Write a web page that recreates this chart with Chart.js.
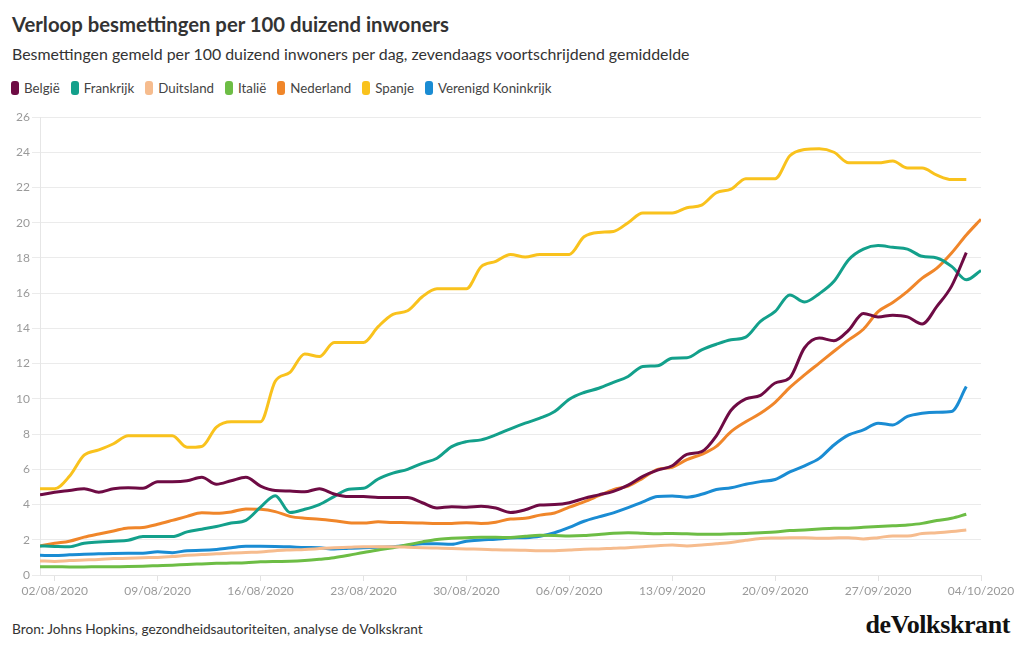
<!DOCTYPE html>
<html><head><meta charset="utf-8">
<script src="https://cdn.jsdelivr.net/npm/chart.js@4.4.0/dist/chart.umd.min.js"></script>
<style>
html,body{margin:0;padding:0;background:#fff;width:1020px;height:650px;overflow:hidden;font-family:Lato,'Noto Sans',sans-serif;}
#title{position:absolute;left:12px;top:12px;font-size:20.3px;font-weight:700;color:#333;white-space:nowrap}
#sub{position:absolute;left:12px;top:44px;font-size:15.9px;color:#333;white-space:nowrap}
#legend{position:absolute;left:11px;top:80px;font-size:13.3px;color:#444;display:flex;white-space:nowrap}
.item{display:flex;align-items:center;margin-right:11px}
.sw{width:8px;height:14px;border-radius:3px;margin-right:5px}
#wrap{position:absolute;left:0;top:100px;width:1020px;height:510px}
#src{position:absolute;left:12px;top:620px;font-size:13.7px;color:#333;white-space:nowrap}
#logo{position:absolute;right:10px;top:610px;font-family:'Liberation Serif',serif;font-weight:700;font-size:26px;color:#111;letter-spacing:-0.4px}
</style></head>
<body>
<div id="title">Verloop besmettingen per 100 duizend inwoners</div>
<div id="sub">Besmettingen gemeld per 100 duizend inwoners per dag, zevendaags voortschrijdend gemiddelde</div>
<div id="legend"></div>
<div id="wrap"><canvas id="c" width="1020" height="510"></canvas></div>
<div id="src">Bron: Johns Hopkins, gezondheidsautoriteiten, analyse de Volkskrant</div>
<div id="logo">deVolkskrant</div>
<script>
const dates = ["01/08/2020","02/08/2020","03/08/2020","04/08/2020","05/08/2020","06/08/2020","07/08/2020","08/08/2020","09/08/2020","10/08/2020",
"11/08/2020","12/08/2020","13/08/2020","14/08/2020","15/08/2020","16/08/2020","17/08/2020","18/08/2020","19/08/2020","20/08/2020",
"21/08/2020","22/08/2020","23/08/2020","24/08/2020","25/08/2020","26/08/2020","27/08/2020","28/08/2020","29/08/2020","30/08/2020","31/08/2020",
"01/09/2020","02/09/2020","03/09/2020","04/09/2020","05/09/2020","06/09/2020","07/09/2020","08/09/2020","09/09/2020","10/09/2020",
"11/09/2020","12/09/2020","13/09/2020","14/09/2020","15/09/2020","16/09/2020","17/09/2020","18/09/2020","19/09/2020","20/09/2020",
"21/09/2020","22/09/2020","23/09/2020","24/09/2020","25/09/2020","26/09/2020","27/09/2020","28/09/2020","29/09/2020","30/09/2020",
"01/10/2020","02/10/2020","03/10/2020","04/10/2020"];
const tickDates = ["02/08/2020","09/08/2020","16/08/2020","23/08/2020","30/08/2020","06/09/2020","13/09/2020","20/09/2020","27/09/2020","04/10/2020"];
const yTicks = [0,2,4,6,8,10,12,14,16,18,20,22,24,26];

const countries = ["België","Frankrijk","Duitsland","Italië","Nederland","Spanje","Verenigd Koninkrijk"];
const colors = ["#6e0b44","#13a08b","#f6bc8e","#6dbd45","#f0862a","#f9c21d","#1a8cd3"];

const belgie = [4.55,4.7,4.8,4.9,4.7,4.9,4.95,4.93,5.3,5.3,5.35,5.55,5.15,5.35,5.55,5.05,4.8,4.77,4.72,4.9,4.6,4.45,4.45,4.4,4.4,4.4,4.1,3.8,3.88,3.85,3.9,3.8,3.55,3.7,3.97,4.0,4.1,4.35,4.55,4.75,5.1,5.6,5.95,6.2,6.85,7.0,7.9,9.35,10.0,10.2,10.9,11.2,12.9,13.45,13.3,13.9,14.85,14.65,14.75,14.65,14.25,15.25,16.4,18.3,null];
const frankrijk = [1.65,1.62,1.6,1.8,1.87,1.92,1.97,2.18,2.18,2.18,2.45,2.6,2.75,2.95,3.1,3.85,4.5,3.55,3.73,4.0,4.45,4.87,4.92,5.45,5.78,6.0,6.34,6.63,7.29,7.57,7.67,7.95,8.3,8.62,8.9,9.28,9.98,10.36,10.6,10.93,11.27,11.84,11.88,12.31,12.33,12.78,13.1,13.35,13.5,14.4,14.96,15.9,15.5,15.97,16.67,17.9,18.5,18.7,18.6,18.5,18.09,18.0,17.52,16.76,17.29];
const duitsland = [0.8,0.77,0.82,0.85,0.88,0.93,0.95,0.98,1.0,1.05,1.12,1.17,1.2,1.25,1.28,1.3,1.38,1.42,1.45,1.5,1.55,1.57,1.6,1.6,1.6,1.58,1.55,1.53,1.51,1.48,1.46,1.43,1.42,1.4,1.38,1.38,1.42,1.46,1.48,1.52,1.55,1.6,1.66,1.7,1.65,1.7,1.77,1.85,1.97,2.07,2.1,2.12,2.12,2.08,2.1,2.12,2.05,2.12,2.22,2.22,2.35,2.4,2.47,2.56,null];
const italie = [0.47,0.47,0.46,0.46,0.47,0.47,0.48,0.5,0.53,0.56,0.6,0.63,0.66,0.68,0.7,0.75,0.77,0.78,0.82,0.89,0.98,1.12,1.28,1.42,1.55,1.72,1.88,2.02,2.08,2.12,2.14,2.14,2.13,2.2,2.25,2.24,2.22,2.24,2.3,2.37,2.4,2.37,2.34,2.36,2.34,2.32,2.32,2.34,2.36,2.4,2.44,2.52,2.56,2.61,2.65,2.66,2.71,2.75,2.79,2.84,2.93,3.09,3.22,3.45,null];
const nederland = [1.65,1.8,1.92,2.15,2.33,2.5,2.67,2.7,2.88,3.1,3.33,3.53,3.5,3.58,3.75,3.73,3.6,3.33,3.22,3.17,3.08,2.97,2.95,3.02,2.98,2.97,2.95,2.93,2.93,2.97,2.93,3.0,3.18,3.22,3.4,3.52,3.85,4.15,4.5,4.85,5.05,5.5,6.0,6.12,6.55,6.85,7.3,8.14,8.7,9.18,9.8,10.65,11.36,12.03,12.7,13.35,13.95,14.95,15.47,16.1,16.85,17.42,18.28,19.3,20.2];
const spanje = [4.9,4.9,5.6,6.8,7.1,7.45,7.9,7.9,7.9,7.9,7.25,7.3,8.4,8.7,8.7,8.7,11.0,11.5,12.55,12.4,13.2,13.2,13.2,14.1,14.8,15.0,15.8,16.25,16.25,16.25,17.5,17.8,18.2,18.05,18.2,18.2,18.2,19.2,19.45,19.5,20.0,20.55,20.55,20.55,20.85,21.0,21.7,21.9,22.5,22.5,22.5,23.8,24.15,24.2,24.0,23.4,23.4,23.4,23.5,23.1,23.1,22.7,22.45,22.45,null];
const vk = [1.12,1.1,1.15,1.18,1.2,1.22,1.23,1.23,1.32,1.27,1.38,1.4,1.45,1.55,1.63,1.63,1.62,1.6,1.56,1.55,1.47,1.52,1.55,1.57,1.6,1.68,1.78,1.77,1.74,1.92,1.99,2.03,2.1,2.12,2.2,2.4,2.7,3.05,3.3,3.53,3.82,4.15,4.45,4.48,4.42,4.58,4.85,4.95,5.15,5.3,5.42,5.85,6.2,6.62,7.38,7.95,8.24,8.62,8.52,9.0,9.18,9.24,9.28,10.7,null];

const series = [belgie, frankrijk, duitsland, italie, nederland, spanje, vk];

// HTML legend
const lg = document.getElementById('legend');
countries.forEach((n,i)=>{
  const it=document.createElement('div');it.className='item';
  const sw=document.createElement('span');sw.className='sw';sw.style.background=colors[i];
  const t=document.createElement('span');t.textContent=n;
  it.appendChild(sw);it.appendChild(t);lg.appendChild(it);
});

const toPts = arr => arr.map((v,i)=>({x:i,y:v})).filter(p=>p.y!==null);

new Chart(document.getElementById('c'),{
  type:'line',
  data:{datasets: countries.map((n,i)=>({
    label:n, data:toPts(series[i]), borderColor:colors[i], backgroundColor:colors[i],
    borderWidth:3, pointRadius:0, fill:false, cubicInterpolationMode:'monotone'
  }))},
  options:{
    responsive:false, animation:false,
    layout:{padding:{top:17,right:39,left:0,bottom:0}},
    plugins:{legend:{display:false},tooltip:{enabled:false},title:{display:false}},
    scales:{
      x:{type:'linear',min:0,max:dates.length-1,
        afterBuildTicks:s=>{s.ticks=tickDates.map(d=>({value:dates.indexOf(d)}));},
        afterFit:s=>{s.height=35;},
        grid:{drawOnChartArea:false,drawTicks:true,tickLength:6,color:'#e2e2e2'},
        border:{display:true,color:'#e6e6e6'},
        ticks:{callback:v=>dates[v],maxRotation:0,autoSkip:false,color:'#9a9a9a',font:{size:12,family:'Lato'},padding:3}
      },
      y:{min:0,max:26,
        afterBuildTicks:s=>{s.ticks=yTicks.map(v=>({value:v}));},
        afterFit:s=>{s.width=40;},
        grid:{color:'#ebebeb',tickLength:8,drawTicks:true},
        border:{display:true,color:'#e6e6e6'},
        ticks:{color:'#9a9a9a',font:{size:12,family:'Lato'},padding:2}
      }
    }
  }
});
</script>
</body></html>
